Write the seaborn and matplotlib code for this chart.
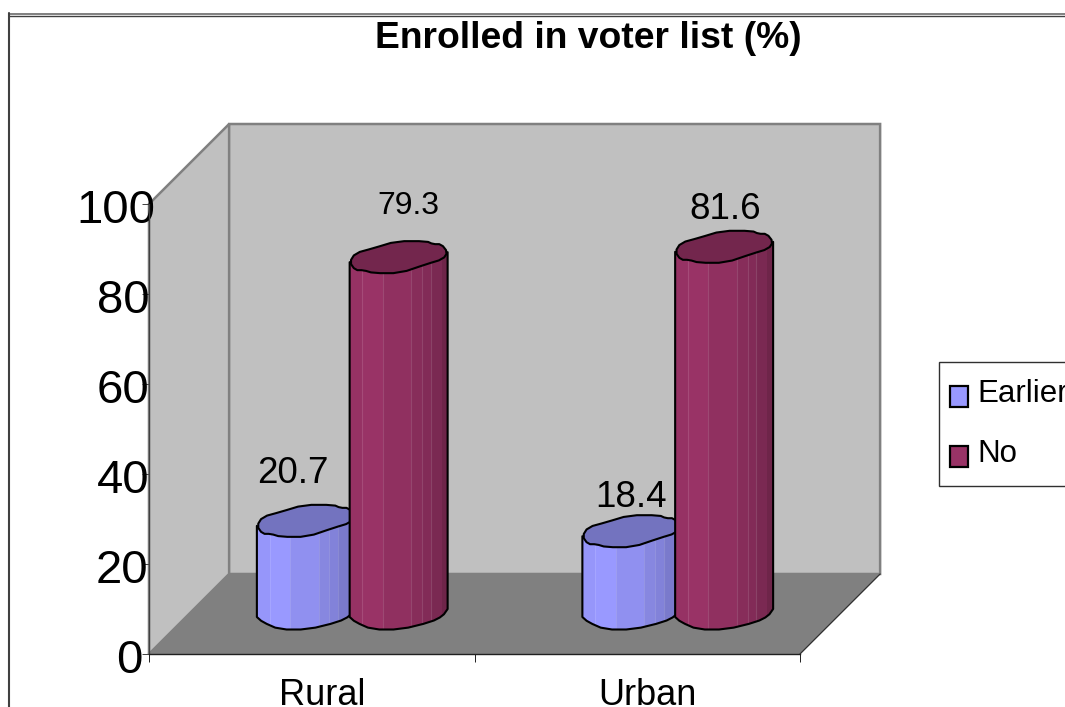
import numpy as np
import pandas as pd
import matplotlib
matplotlib.use('Agg')
import matplotlib.pyplot as plt
import seaborn as sns
from matplotlib.lines import Line2D
from matplotlib.patches import Polygon, Rectangle
from matplotlib.transforms import ScaledTranslation

# values
areas = ['Rural', 'Urban']
statuses = ['Earlier', 'No']
earlier_values = [20.7, 18.4]
no_values = [79.3, 81.6]
y_ticks = [0, 20, 40, 60, 80, 100]

W, H, DPI = 1065, 707, 100
PX_PER_UNIT = 4.5

bar_colors = ['#9999FF', '#993366']
cap_colors = ['#7373BF', '#73264D']
shades = [0.98, 1.0, 0.94, 0.88, 0.85, 0.80, 0.72]
shade_edges = [0, 0.13, 0.34, 0.63, 0.74, 0.83, 0.94, 1.0]

# cylinder outline: fraction of bar width, pixels away from the centre line
cap_u = [0.0, 0.057, 0.243, 0.48, 0.784, 0.851, 0.936, 1.0, 0.953, 0.784, 0.514, 0.243, 0.142, 0.057]
cap_v = [-5, 4, 9, 16, 16, 13, 13, 5, -2, -7, -16, -16, -13, -13]
base_u = [0, 0.057, 0.23, 0.52, 0.83, 0.95, 1.0]
base_v = [-3, -8, -15.5, -15.5, -8, -2, 5]

sns.set_style('white')
plt.rcParams['font.family'] = ['Liberation Sans', 'DejaVu Sans']

df = pd.DataFrame({
    'area': areas * 2,
    'status': [statuses[0]] * 2 + [statuses[1]] * 2,
    'value': earlier_values + no_values,
})


def px_box(left, top, right, bottom):
    return [left / W, 1 - bottom / H, (right - left) / W, (bottom - top) / H]


def shift(fig, dx, dy):
    return ScaledTranslation(dx / DPI, -dy / DPI, fig.dpi_scale_trans)


def round_corners(u, v, closed=False):
    """One pass of corner cutting so the outline is not so angular."""
    u, v = np.asarray(u, float), np.asarray(v, float)
    if closed:
        u2, v2 = np.roll(u, -1), np.roll(v, -1)
        su = np.column_stack([0.75 * u + 0.25 * u2, 0.25 * u + 0.75 * u2]).ravel()
        sv = np.column_stack([0.75 * v + 0.25 * v2, 0.25 * v + 0.75 * v2]).ravel()
        return su, sv
    su = np.column_stack([0.75 * u[:-1] + 0.25 * u[1:], 0.25 * u[:-1] + 0.75 * u[1:]]).ravel()
    sv = np.column_stack([0.75 * v[:-1] + 0.25 * v[1:], 0.25 * v[:-1] + 0.75 * v[1:]]).ravel()
    return np.r_[u[0], su, u[-1]], np.r_[v[0], sv, v[-1]]


def draw_cylinder(ax, patch, color, cap_color, zorder):
    x0 = patch.get_x() - 0.008
    width = patch.get_width() + 0.016
    top = patch.get_height()
    uy = 1 / PX_PER_UNIT

    bu, bv = round_corners(base_u, base_v)
    cu, cv = round_corners(cap_u, cap_v, closed=True)

    # silhouette of the body, then vertical shaded strips clipped to it
    pts = [(x0, top - 5 * uy)]
    pts += [(x0 + u * width, v * uy) for u, v in zip(bu, bv)]
    pts += [(x0 + width, top + 5 * uy), (x0 + width * 0.5, top + 5 * uy)]
    body = Polygon(pts, closed=True, facecolor=color, edgecolor='none', clip_on=False, zorder=zorder)
    ax.add_patch(body)
    rgb = np.array(matplotlib.colors.to_rgb(color))
    for i, s in enumerate(shades):
        strip = Rectangle((x0 + shade_edges[i] * width, -10), (shade_edges[i + 1] - shade_edges[i]) * width,
                          top + 20, facecolor=rgb * s, edgecolor='none', zorder=zorder)
        ax.add_patch(strip)
        strip.set_clip_box(None)
        strip.set_clip_path(body)
    for edge in shade_edges[1:6]:
        line = ax.plot([x0 + edge * width] * 2, [-10, top + 10], color='white', alpha=0.12, lw=0.8, zorder=zorder)[0]
        line.set_clip_box(None)
        line.set_clip_path(body)
    # side walls and bottom edge
    ax.plot([p[0] for p in pts[:-1]], [p[1] for p in pts[:-1]], color='black', lw=1.5,
            clip_on=False, zorder=zorder, solid_joinstyle='round')
    cap = [(x0 + u * width, top + v * uy) for u, v in zip(cu, cv)]
    ax.add_patch(Polygon(cap, closed=True, facecolor=cap_color, edgecolor='black', lw=1.5,
                         clip_on=False, zorder=zorder, joinstyle='round'))


fig = plt.figure(figsize=(W / DPI, H / DPI), dpi=DPI, facecolor='white')

# front plane of the chart carries the axes
ax = fig.add_axes(px_box(149, 204, 800, 654))
ax.set_xlim(-0.5, 1.5)
ax.set_ylim(0, 100)
ax.patch.set_visible(False)

# walls and floor pushed back in depth, in data units
dx = 80 / 325
dy = 80 / PX_PER_UNIT
ax.add_patch(Polygon([(-0.5, 0), (-0.5 + dx, dy), (1.5 + dx, dy), (1.5 + dx, 100 + dy), (-0.5 + dx, 100 + dy)],
                     closed=True, facecolor='#C0C0C0', edgecolor='#808080', lw=1.8, clip_on=False, zorder=0))
ax.add_patch(Polygon([(-0.5, 0), (-0.5, 100), (-0.5 + dx, 100 + dy), (-0.5 + dx, dy)],
                     closed=True, facecolor='#C0C0C0', edgecolor='#808080', lw=1.8, clip_on=False, zorder=0))
ax.add_patch(Polygon([(-0.5, 0), (-0.5 + dx, dy), (1.5 + dx, dy), (1.5, 0)],
                     closed=True, facecolor='#808080', edgecolor='none', clip_on=False, zorder=1))
ax.plot([1.5, 1.5 + dx], [0, dy], color='#303030', lw=0.9, clip_on=False, zorder=1)

for side in ['top', 'right']:
    ax.spines[side].set_visible(False)
ax.spines['left'].set_color('#404040')
ax.spines['left'].set_linewidth(0.9)
ax.spines['bottom'].set_color('#202020')
ax.spines['bottom'].set_linewidth(1.0)

ax.set_yticks(y_ticks)
ax.set_yticklabels([str(t) for t in y_ticks])
ax.tick_params(axis='y', direction='out', left=True, length=5, width=0.7, color='#404040', pad=1,
               labelsize=34, labelcolor='black')
ax.set_xticks([0, 1])
ax.set_xticklabels(areas)
ax.set_xticks([-0.5, 0.5, 1.5], minor=True)
ax.tick_params(axis='x', which='major', bottom=False, length=0, pad=17, labelsize=26, labelcolor='black')
ax.tick_params(axis='x', which='minor', bottom=True, direction='out', length=6, width=0.7, color='#202020')

# the tick labels sit unevenly against the axis
label_dx = {0: 1.5, 20: 8, 40: 9, 60: 9, 80: 9, 100: 15}
for t, lab in zip(y_ticks, ax.get_yticklabels()):
    lab.set_transform(lab.get_transform() + shift(fig, label_dx[t], 2))
for lab in ax.get_xticklabels():
    lab.set_transform(lab.get_transform() + shift(fig, 10, 0))

# bars stand half way into the depth
ax_bars = fig.add_axes(px_box(189.5, 164, 840.5, 614), sharex=None)
sns.barplot(data=df, x='area', y='value', hue='status', hue_order=statuses, order=areas,
            palette=bar_colors, width=0.57, gap=0, dodge=True, legend=False, ax=ax_bars)
ax_bars.set_xlim(-0.5, 1.5)
ax_bars.set_ylim(0, 100)
ax_bars.axis('off')

label_sizes = [[26.5, 26.5], [23, 26.5]]
label_offsets = [[(-13, 47), (0, 34)], [(10, 51), (1.5, 37)]]
for i, container in enumerate(ax_bars.containers):
    for j, patch in enumerate(container.patches):
        patch.set_visible(False)
        draw_cylinder(ax_bars, patch, bar_colors[i], cap_colors[i], 5 + i + j * 0.1)
        ax_bars.annotate(f'{patch.get_height():.1f}', (patch.get_x() + patch.get_width() / 2, patch.get_height()),
                         xytext=label_offsets[i][j], textcoords='offset pixels', ha='center', va='center',
                         fontsize=label_sizes[i][j], color='black', zorder=20, annotation_clip=False)

fig.text(588 / W, 1 - 39 / H, 'Enrolled in voter list (%)', ha='center', va='center',
         fontsize=26.8, fontweight='bold', color='black')

# legend runs off the right edge like the original
fig.add_artist(Rectangle((939 / W, 1 - 486 / H), 140 / W, 124 / H, facecolor='white', edgecolor='#303030',
                         lw=1.0, transform=fig.transFigure))
handles = [Rectangle((0, 0), 1, 1, facecolor=c, edgecolor='black', lw=1.6) for c in bar_colors]
leg = fig.legend(handles, statuses, loc='upper left', bbox_to_anchor=(939 / W, 1 - 368 / H),
                 bbox_transform=fig.transFigure, fontsize=22.5, frameon=False,
                 labelcolor='black', handlelength=0.58, handleheight=0.67,
                 handletextpad=0.28, labelspacing=0.95, borderpad=0.355, borderaxespad=0)
leg.set_zorder(30)
for h in leg.legend_handles:
    h.set_y(h.get_y() - 4)

# chart area frame
fig.add_artist(Line2D([9 / W, 1], [1 - 13.5 / H] * 2, color='#808080', lw=1.4, transform=fig.transFigure))
fig.add_artist(Line2D([9 / W, 1], [1 - 16 / H] * 2, color='#404040', lw=1.0, transform=fig.transFigure))
fig.add_artist(Line2D([9 / W] * 2, [0, 1 - 13 / H], color='#404040', lw=1.5, transform=fig.transFigure))

fig.savefig('out.png', dpi=DPI)
